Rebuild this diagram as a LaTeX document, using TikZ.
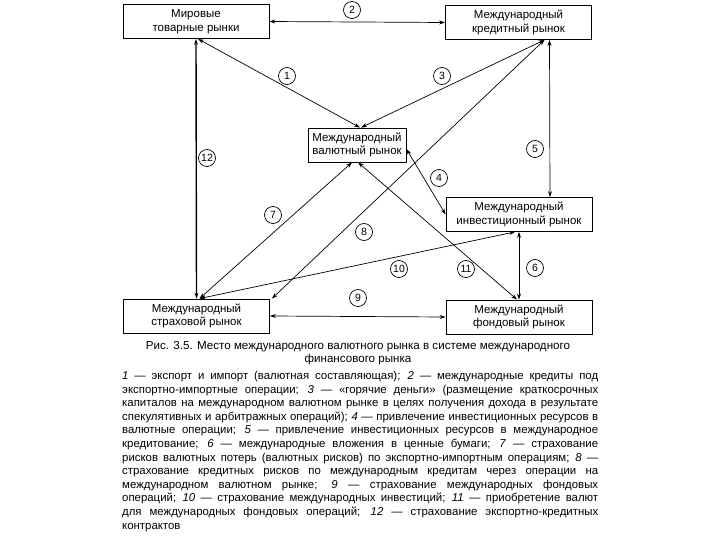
\documentclass[tikz,border=0pt]{standalone}
\usepackage{fontspec}
\setmainfont{Liberation Sans}
\usetikzlibrary{arrows.meta}

\begin{document}
\begin{tikzpicture}[x=1pt, y=-1pt,
    mkt/.style={draw, line width=0.8pt, minimum width=146pt, minimum height=34pt,
                inner sep=1pt, font=\fontsize{11.5}{13.5}\selectfont, align=center},
    num/.style={draw, circle, line width=0.7pt, inner sep=0pt, minimum size=17pt,
                fill=white, font=\fontsize{10.5}{12}\selectfont},
    lnk/.style={line width=0.7pt,
                {Stealth[length=6pt,width=4pt]}-{Stealth[length=6pt,width=4pt]}}
  ]
  \useasboundingbox (0,0) rectangle (720,540);

  % markets
  \node[mkt] (mir)  at (196,21.5)  {Мировые\\ товарные рынки};
  \node[mkt] (kred) at (518.5,22.5) {Международный\\ кредитный рынок};
  \node[mkt, minimum width=98pt] (val) at (357,145) {Международный\\ валютный рынок};
  \node[mkt] (inv)  at (519,214.5) {Международный\\ инвестиционный рынок};
  \node[mkt] (str)  at (196.5,316) {Международный\\ страховой рынок};
  \node[mkt] (fond) at (519,317)   {Международный\\ фондовый рынок};

  % links
  \draw[lnk] ([xshift=2pt]mir.south) -- ([xshift=3pt]val.north);
  \draw[lnk] (mir.east) -- (kred.west);
  \draw[lnk] ([xshift=26pt]kred.south) -- ([xshift=4pt]val.north);
  \draw[lnk] ([yshift=-4pt]val.east) -- (inv.west);
  \draw[lnk] ([xshift=31pt]kred.south) -- ([xshift=31pt]inv.north);
  \draw[lnk] (inv.south) -- (fond.north);
  \draw[lnk] ([xshift=3pt]str.north) -- ([xshift=-5pt]val.south);
  \draw[lnk] ([xshift=26pt]kred.south) -- ([xshift=2pt]str.north east);
  \draw[lnk] (str.east) -- (fond.west);
  \draw[lnk] ([xshift=3pt]str.north) -- ([xshift=-4pt]inv.south);
  \draw[lnk] ([xshift=1pt]val.south) -- ([xshift=-2pt]fond.north);
  \draw[lnk, line width=1.4pt] (mir.south) -- (str.north);

  % link numbers
  \node[num] (n1)  at (287,76)  {1};
  \node[num] (n2)  at (352,10)  {2};
  \node[num] (n3)  at (442,76)  {3};
  \node[num] (n4)  at (439,178) {4};
  \node[num] (n5)  at (535,149) {5};
  \node[num] (n6)  at (535,268) {6};
  \node[num] (n7)  at (273,215) {7};
  \node[num] (n8)  at (364,232) {8};
  \node[num] (n9)  at (358,298) {9};
  \node[num] (n10) at (399,269) {10};
  \node[num] (n11) at (466,269) {11};
  \node[num] (n12) at (207,158) {12};

  % caption and legend
  \node[align=center, inner sep=0pt, font=\fontsize{11.6}{12.5}\selectfont] (cap) at (358,353)
    {Рис. 3.5. Место международного валютного рынка в системе международного\\
     финансового рынка};
  \node[anchor=north west, inner sep=0pt, text width=476pt, align=justify,
        font=\fontsize{11.4}{13.6}\selectfont] (leg) at (122,371)
    {\hyphenpenalty=10000 \exhyphenpenalty=10000 \tolerance=9999
     \textit{1} — экспорт и импорт (валютная составляющая); \textit{2} — международные кредиты под\linebreak
     экспортно-импортные операции; \textit{3} — «горячие деньги» (размещение краткосрочных\linebreak
     капиталов на международном валютном рынке в целях получения дохода в результате\linebreak
     спекулятивных и арбитражных операций); \textit{4} — привлечение инвестиционных ресурсов в\linebreak
     валютные операции; \textit{5} — привлечение инвестиционных ресурсов в международное\linebreak
     кредитование; \textit{6} — международные вложения в ценные бумаги; \textit{7} — страхование\linebreak
     рисков валютных потерь (валютных рисков) по экспортно-импортным операциям; \textit{8} —\linebreak
     страхование кредитных рисков по международным кредитам через операции на\linebreak
     международном валютном рынке; \textit{9} — страхование международных фондовых\linebreak
     операций; \textit{10} — страхование международных инвестиций; \textit{11} — приобретение валют\linebreak
     для международных фондовых операций; \textit{12} — страхование экспортно-кредитных\linebreak
     контрактов};
\end{tikzpicture}
\end{document}
